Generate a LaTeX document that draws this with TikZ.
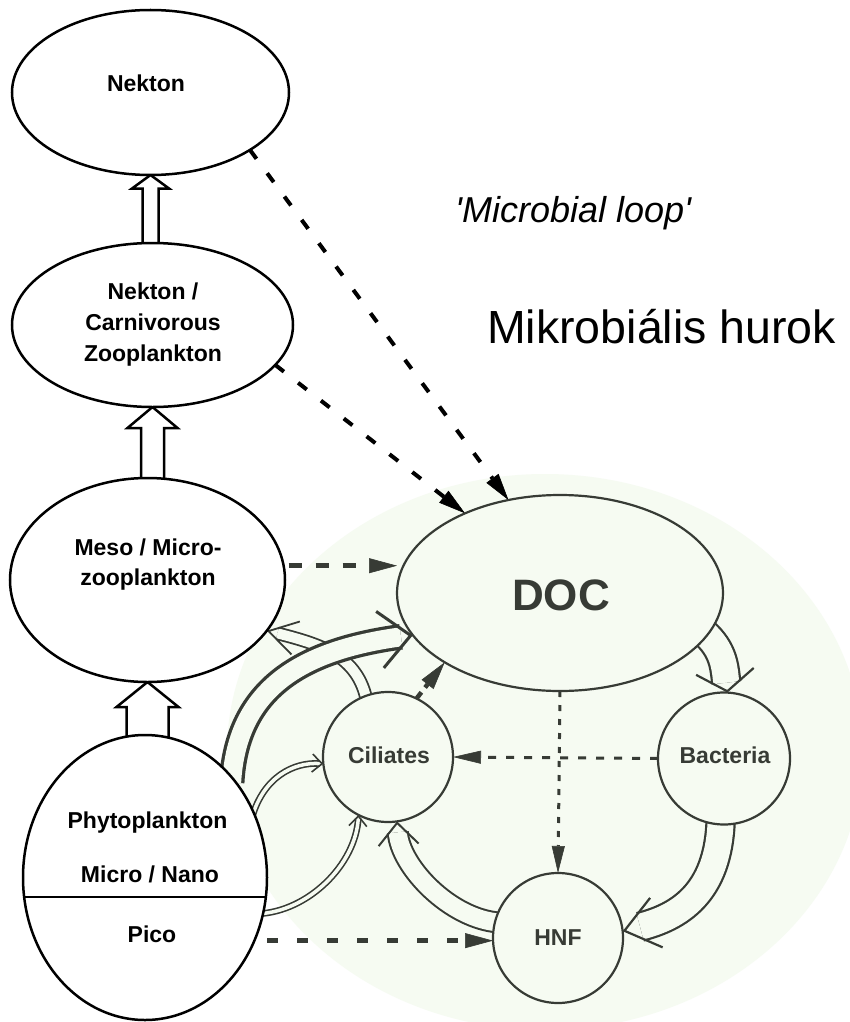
\documentclass[tikz,border=0pt]{standalone}
\usepackage{fontspec}
\setmainfont{Liberation Sans}
\newfontfamily\qfont{Liberation Sans}[Ligatures=TeXOff]
\usetikzlibrary{arrows.meta,shapes.geometric}
\pgfdeclarelayer{bglayer}
\pgfdeclarelayer{arrlayer}
\pgfsetlayers{bglayer,arrlayer,main}
\definecolor{bgc}{RGB}{246,251,242}
\definecolor{lc}{RGB}{55,59,53}
\newcommand\holarr[3]{\draw[#1] #3; \draw[#2] #3;}
\begin{document}
\begin{tikzpicture}[x=1pt,y=-1pt]
\tikzset{
 lell/.style={ellipse, draw=black, line width=2.5pt, fill=white, inner sep=0pt, outer sep=0pt},
 gell/.style={ellipse, draw=lc, line width=2.2pt, fill=bgc, inner sep=0pt, outer sep=0pt},
 gcirc/.style={circle, draw=lc, line width=2.2pt, fill=bgc, inner sep=0pt, outer sep=0pt, minimum size=#1},
 ltxt/.style={anchor=base, inner sep=0pt, font=\fontsize{23}{27}\selectfont\bfseries, text=black},
 gtxt/.style={anchor=base, inner sep=0pt, font=\fontsize{23}{27}\selectfont\bfseries, text=lc},
 blk/.style={draw=black, line width=2.5pt, fill=white, line join=miter},
 dk/.style={draw=black, line width=4pt, dash pattern=on 11pt off 18pt, -{Triangle[length=27pt,width=15pt,line width=0.6pt]}},
 dm/.style={draw=lc, line width=4.5pt, dash pattern=on 13pt off 14pt, -{Triangle[length=28pt,width=15pt,line width=0.6pt]}},
 dgthin/.style={draw=lc, line width=3pt, dash pattern=on 8pt off 10pt, -{Triangle[length=28pt,width=13pt,line width=0.6pt]}},
 dgdot/.style={draw=lc, line width=3pt, dash pattern=on 6pt off 8pt, -{Triangle[length=27pt,width=13pt,line width=0.6pt]}},
 hsh/.style n args={3}{draw=lc, line width=#1, double=bgc, double distance=#2, shorten >=#3, shorten <=-5pt},
 hhd/.style n args={3}{draw=bgc, line width=0.8pt, -{Straight Barb[color=lc, line width=#1, length=#2, width=#3]}}
}
\useasboundingbox (0,0) rectangle (849,1022);
\begin{pgfonlayer}{bglayer}
\fill[white] (0,0) rectangle (849,1022);
\fill[bgc] (545,752) ellipse [x radius=318pt, y radius=278pt];
\end{pgfonlayer}

% nodes
\node[lell, minimum width=277pt, minimum height=165pt] (nek) at (150.5,92.5) {};
\node[lell, minimum width=281pt, minimum height=164pt] (carn) at (152.5,325) {};
\node[lell, minimum width=275pt, minimum height=204pt] (meso) at (147.5,580) {};
\node[lell, minimum width=244pt, minimum height=285pt] (phyto) at (145,877.5) {};
\node[gell, minimum width=326pt, minimum height=196pt] (doc) at (560,593) {};
\node[gcirc=130pt] (cil) at (388,757) {};
\node[gcirc=132pt] (bac) at (724,758.5) {};
\node[gcirc=130pt] (hnf) at (558,938) {};
\draw[black, line width=2.2pt] (phyto.189.4) -- (phyto.-9.4);

% texts
\node[ltxt] (tnek) at (146,92) {Nekton};
\node[ltxt] (tc1) at (153,299) {Nekton /};
\node[ltxt] (tc2) at (153,330) {Carnivorous};
\node[ltxt] (tc3) at (153,361) {Zooplankton};
\node[ltxt] (tm1) at (148,555) {Meso / Micro-};
\node[ltxt] (tm2) at (148,585) {zooplankton};
\node[ltxt] (tp1) at (147.5,828) {Phytoplankton};
\node[ltxt] (tp2) at (150,882) {Micro / Nano};
\node[ltxt] (tp3) at (152,942) {Pico};
\node[gtxt, font=\fontsize{44}{48}\selectfont\bfseries] (tdoc) at (561,610) {DOC};
\node[gtxt] (tcil) at (389,763) {Ciliates};
\node[gtxt] (tbac) at (725,763) {Bacteria};
\node[gtxt] (thnf) at (558,945) {HNF};
\node[anchor=base west, inner sep=0pt, font=\qfont\itshape\fontsize{36}{40}\selectfont] (tml) at (455,222) {'Microbial loop'};
\node[anchor=base west, inner sep=0pt, font=\fontsize{46.5}{50}\selectfont] (tmh) at (487,343) {Mikrobiális hurok};

\begin{pgfonlayer}{arrlayer}
% block arrows
\draw[blk] (nek.south) -- +(-18.5,13.5) -- +(-8,13.5) -- +(-8,72) -- +(8,72) -- +(8,13.5) -- +(18.5,13.5) -- cycle;
\draw[blk] (carn.south) -- +(-25,21) -- +(-11.5,21) -- +(-11.5,75) -- +(11.5,75) -- +(11.5,21) -- +(25,21) -- cycle;
\draw[blk] (meso.south) -- +(-31,25) -- +(-21,25) -- +(-21,60) -- +(21,60) -- +(21,25) -- +(31,25) -- cycle;
% dashed arrows
\draw[dk] (nek.-30) -- (doc.119.7);
\draw[dk] (carn.-18.2) -- (doc.140.1);
\draw[dm, shorten <=5pt] (meso.6.5) -- (meso.6.5 -| doc.west);
\draw[dm, dash pattern=on 8pt off 6pt] (cil.64.2) -- (doc.211.3);
\draw[dgdot] (doc.south) -- (hnf.north);
\draw[dgthin] (bac.west) -- (cil.east);
\draw[dm, dash pattern=on 11pt off 19pt, shorten <=13pt] (phyto.-30.9) -- (phyto.-30.9 -| hnf.west);
% hollow arrows
\holarr{hsh={1.8pt}{10pt}{11pt}}{hhd={1.8pt}{28pt}{34pt}}{(cil.110) .. controls +(-8,-40) and +(55,14) .. (meso.-23)}
\holarr{hsh={3.3pt}{19pt}{12pt}}{hhd={3pt}{31pt}{57pt}}{(phyto.49.6) .. controls +(5,-90) and +(-110,15) .. (doc.196)}
\holarr{hsh={1.6pt}{3.5pt}{3.5pt}}{hhd={1.6pt}{10pt}{18pt}}{(phyto.31) .. controls +(10,-35) and +(-30,-2) .. (cil.186)}
\holarr{hsh={1.6pt}{3.5pt}{3.5pt}}{hhd={1.6pt}{10pt}{18pt}}{(phyto.-17.6) .. controls +(45,-2) and +(-3,50) .. (cil.-117.7)}
\holarr{hsh={2.2pt}{26pt}{10pt}}{hhd={2.2pt}{20pt}{58pt}}{(doc.-16.7) .. controls +(17,15) and +(-3,-25) .. (bac.87.5)}
\holarr{hsh={2.2pt}{26pt}{18pt}}{hhd={2.2pt}{33pt}{51pt}}{(bac.-93.5) .. controls +(-2,70) and +(55,-14) .. (hnf.6.4)}
\holarr{hsh={2pt}{18pt}{11pt}}{hhd={2pt}{22pt}{40pt}}{(hnf.166) .. controls +(-45,-3) and +(3,45) .. (cil.-82)}
\end{pgfonlayer}
\end{tikzpicture}
\end{document}
